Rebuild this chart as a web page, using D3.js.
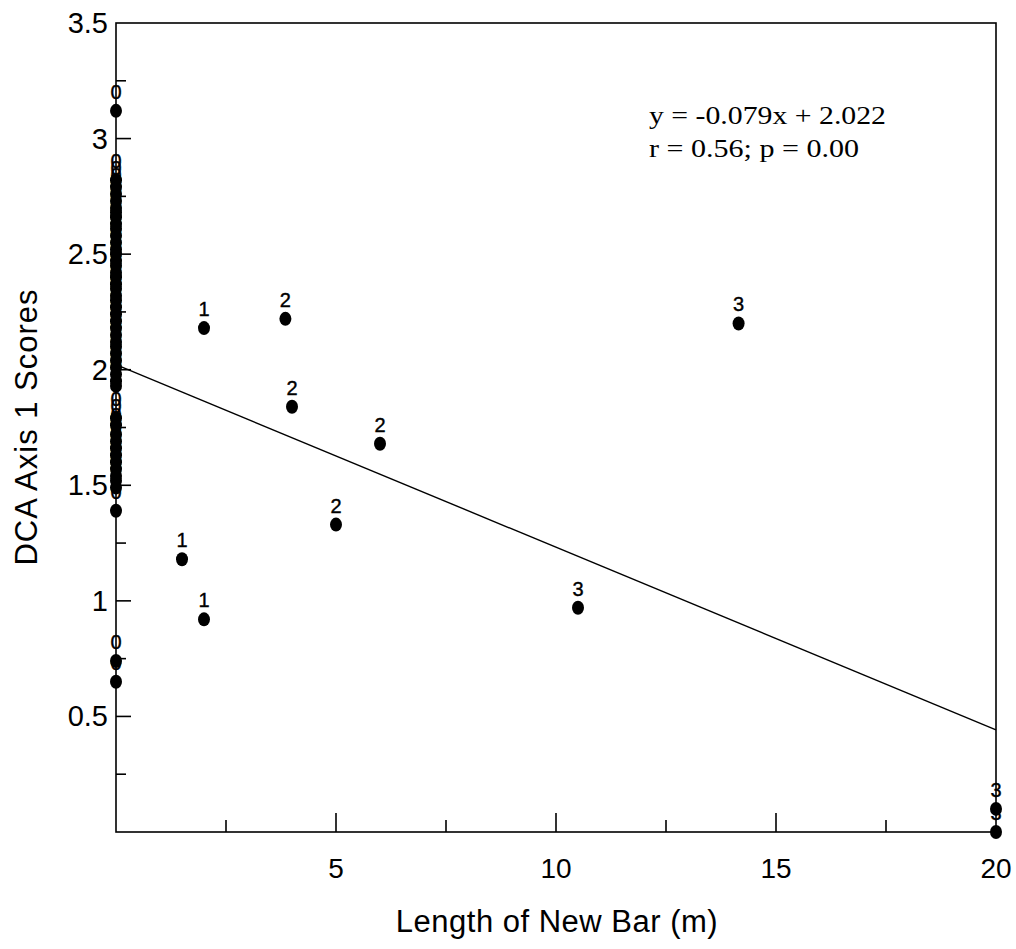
<!DOCTYPE html>
<html><head><meta charset="utf-8">
<script src="https://cdn.jsdelivr.net/npm/d3@7"></script>
<style>body{margin:0;background:#fff}</style>
</head><body>
<svg id="c" width="1016" height="949"></svg>
<script>
// Points at Length = 0 (group label "0")
const zeroY = [3.12, 2.82, 2.79, 2.76, 2.73, 2.70, 2.68, 2.66, 2.63, 2.61, 2.58, 2.55, 2.52, 2.50, 2.47, 2.45, 2.42, 2.40, 2.37, 2.35, 2.32, 2.30, 2.27, 2.24, 2.21, 2.18, 2.15, 2.12, 2.10, 2.07, 2.04, 2.01, 1.98, 1.95, 1.93,
  1.79, 1.76, 1.72, 1.69, 1.66, 1.63, 1.60, 1.57, 1.54, 1.52, 1.49, 1.39, 0.74, 0.65];
const otherX = [1.5, 2.0, 2.0, 3.85, 4.0, 5.0, 6.0, 10.5, 14.15, 20.0, 20.0];
const otherY = [1.18, 2.18, 0.92, 2.22, 1.84, 1.33, 1.68, 0.97, 2.20, 0.10, 0.00];
const otherLabel = ["1", "1", "1", "2", "2", "2", "2", "3", "3", "3", "3"];
const xTicks = [5, 10, 15, 20];
const yTicks = [0.5, 1, 1.5, 2, 2.5, 3, 3.5];
const slope = -0.079, intercept = 2.022;
const eqLines = ["y = -0.079x + 2.022", "r = 0.56; p = 0.00"];

const pts = zeroY.map(y => ({x: 0, y, l: "0"}))
  .concat(otherX.map((x, i) => ({x, y: otherY[i], l: otherLabel[i]})));

const svg = d3.select("#c");
const L = 116, R = 996, T = 23, B = 832;
const x = d3.scaleLinear().domain([0, 20]).range([L, R]);
const y = d3.scaleLinear().domain([0, 3.5]).range([B, T]);
const sans = "Liberation Sans, Arial, sans-serif";

// frame
svg.append("rect").attr("x", L).attr("y", T).attr("width", R - L).attr("height", B - T)
  .attr("fill", "none").attr("stroke", "#000").attr("stroke-width", 1.6);

// x ticks (inside, pointing up)
const xt = d3.range(2.5, 20, 2.5);
svg.append("g").selectAll("line").data(xt).join("line")
  .attr("x1", d => x(d)).attr("x2", d => x(d))
  .attr("y1", B).attr("y2", d => B - (d % 5 === 0 ? 19 : 12))
  .attr("stroke", "#000").attr("stroke-width", 1.6);
svg.append("g").selectAll("text").data(xTicks).join("text")
  .attr("x", d => x(d)).attr("y", 878).attr("text-anchor", "middle")
  .attr("font-family", sans).attr("font-size", 28)
  .text(d => d);

// y ticks (inside, pointing right)
const yt = d3.range(0.25, 3.5, 0.25);
svg.append("g").selectAll("line").data(yt).join("line")
  .attr("x1", L).attr("x2", d => L + (Math.abs(d * 2 - Math.round(d * 2)) < 1e-6 ? 15 : 10))
  .attr("y1", d => y(d)).attr("y2", d => y(d))
  .attr("stroke", "#000").attr("stroke-width", 1.6);
svg.append("g").selectAll("text").data(yTicks).join("text")
  .attr("x", 108).attr("y", d => y(d) + 10).attr("text-anchor", "end")
  .attr("font-family", sans).attr("font-size", 29)
  .text(d => d);

// axis titles
svg.append("text").attr("x", 557).attr("y", 932).attr("text-anchor", "middle")
  .attr("font-family", sans).attr("font-size", 31).attr("letter-spacing", 0.5)
  .text("Length of New Bar (m)");
svg.append("text").attr("transform", "translate(37,427) rotate(-90)")
  .attr("text-anchor", "middle")
  .attr("font-family", sans).attr("font-size", 31).attr("letter-spacing", 1)
  .text("DCA Axis 1 Scores");

// regression line
svg.append("line").attr("x1", x(0)).attr("y1", y(intercept))
  .attr("x2", x(20)).attr("y2", y(intercept + slope * 20))
  .attr("stroke", "#000").attr("stroke-width", 1.4);

// labels
svg.append("g").selectAll("text").data(pts).join("text")
  .attr("x", d => x(d.x)).attr("y", d => y(d.y) - 12).attr("text-anchor", "middle")
  .attr("font-family", sans).attr("font-size", 20).attr("stroke", "#000").attr("stroke-width", 0.4)
  .text(d => d.l);

// markers
svg.append("g").selectAll("ellipse").data(pts).join("ellipse")
  .attr("cx", d => x(d.x)).attr("cy", d => y(d.y)).attr("rx", 6).attr("ry", 7)
  .attr("fill", "#000");

// equation
const eqW = [237, 210];
svg.append("g").selectAll("text").data(eqLines).join("text")
  .attr("x", 649).attr("y", (d, i) => 124 + i * 33)
  .attr("font-family", "Liberation Serif, Times New Roman, serif").attr("font-size", 25)
  .attr("textLength", (d, i) => eqW[i]).attr("lengthAdjust", "spacingAndGlyphs")
  .text(d => d);
</script>
</body></html>
